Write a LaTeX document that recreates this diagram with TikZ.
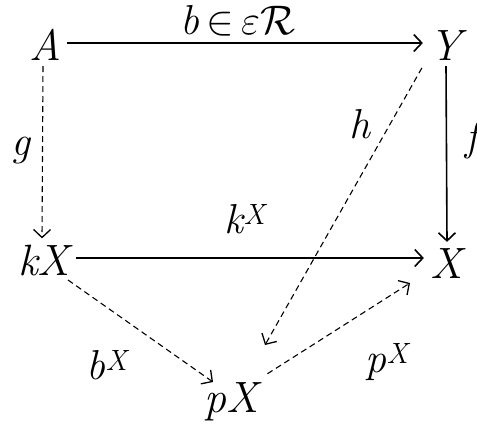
\documentclass[tikz,border=0pt]{standalone}
\usepackage{graphicx}
\usetikzlibrary{arrows.meta}

\newcommand{\bigmath}[1]{\scalebox{2}{\fontsize{20}{24}\selectfont$#1$}}

\begin{document}
\begin{tikzpicture}[
            x=1bp, y=-1bp,
            obj/.style={
                inner sep=6bp,
                anchor=base,
                font=\fontsize{44}{50}\selectfont\itshape
            },
            lbl/.style={
                inner sep=0pt,
                anchor=base,
                font=\fontsize{42}{48}\selectfont\itshape
            },
            map/.style={
                line width=1.6bp,
                -{Straight Barb[length=8bp,width=17bp,line width=1.6bp]}
            },
            dmap/.style={
                line width=1.1bp,
                dash pattern=on 6bp off 4bp,
                -{Straight Barb[length=8bp,width=17bp,line width=1.3bp]}
            }
        ]
            \useasboundingbox (0,0) rectangle (477,424);
            % objects
            \node[obj] (A) at (45,60) {A};
            \node[obj] (Y) at (445,60) {Y};
            \node[obj] (kX) at (44,275) {kX};
            \node[obj] (X) at (446,278) {X};
            \node[obj] (pX) at (231,412) {pX};
            \coordinate (hend) at (265,345);
            \coordinate (pend) at (410,283);
            \coordinate (bend) at (213,382);
            \coordinate (bstart) at (68,280);
            % labels
            \node[lbl] (lb) at (238,34) {b\,\bigmath{\in}\,\bigmath{\varepsilon\mathcal{R}}};
            \node[lbl] (lk) at (245,233) {k\textsuperscript{\itshape X}};
            \node[lbl] (lbx) at (107,379) {b\textsuperscript{\itshape X}};
            \node[lbl] (lpx) at (387,372) {p\textsuperscript{\itshape X}};
            \node[lbl] (lh) at (360,138) {h};
            \node[lbl] (lg) at (21,155) {g};
            \node[lbl] (lf) at (472,150) {f};
            % arrows
            \draw[map] (A.east |- 0,43) -- (Y.west |- 0,43);
            \draw[map] (kX.east |- 0,258) -- (X.west |- 0,258);
            \draw[map] (Y.south) ++(1,0) -- ([xshift=1bp]X.north);
            \draw[dmap] (A.south) ++(-2,0) -- ([xshift=-2bp]kX.north);
            \draw[dmap] (bstart) -- (bend);
            \draw[dmap, shorten <=4bp] (pX.north east) -- (pend);
            \draw[dmap, shorten <=2bp] (Y.south west) -- (hend);
        \end{tikzpicture}
\end{document}
